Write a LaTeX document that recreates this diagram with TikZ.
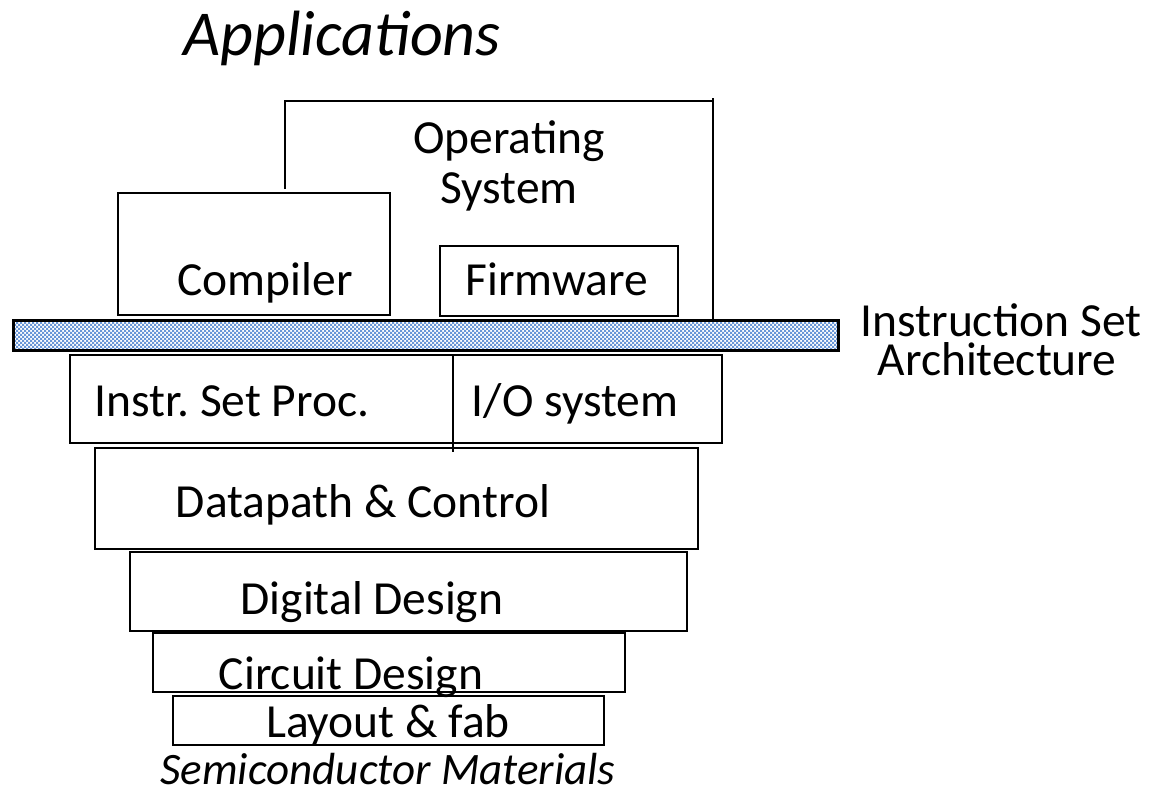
\documentclass[tikz,border=0pt]{standalone}
\usepackage{fontspec}
\setmainfont{Carlito}
\frenchspacing
\usetikzlibrary{patterns}
\definecolor{isablue}{RGB}{105,150,215}
\pgfdeclarepatternformonly{isachecker}{\pgfqpoint{-.05pt}{-.05pt}}{\pgfqpoint{4.05pt}{4.05pt}}{\pgfqpoint{4pt}{4pt}}{%
  \pgfpathrectangle{\pgfqpoint{0pt}{0pt}}{\pgfqpoint{2.05pt}{2.05pt}}%
  \pgfpathrectangle{\pgfqpoint{2pt}{2pt}}{\pgfqpoint{2.05pt}{2.05pt}}%
  \pgfusepath{fill}}
\tikzset{
  box/.style={draw=black, line width=2pt, inner sep=0pt, outer sep=0pt, fill=white},
  lbl/.style={inner sep=0pt, anchor=base, font=\fontsize{47.5}{54}\selectfont},
  ital/.style={inner sep=0pt, anchor=base, font=\fontsize{45}{52}\selectfont\itshape},
  edge/.style={draw=black, line width=2pt}
}
\begin{document}
\begin{tikzpicture}[x=1pt,y=-1pt]
\useasboundingbox (0,0) rectangle (1152,796);
% Operating system outline
\coordinate (os1) at (285,189);
\coordinate (os2) at (285,101);
\coordinate (os3) at (713,101);
\coordinate (os4) at (713,320);
\coordinate (os5) at (713,98);
\draw[edge] (os1) -- (os2) -- (os3);
\draw[edge] (os5) -- (os4);
% boxes
\node[box, minimum width=272pt, minimum height=122pt] (comp) at (254,254) {};
\node[box, minimum width=238pt, minimum height=70pt] (firm) at (559,281) {};
\node[draw=black, line width=3pt, inner sep=0pt, outer sep=0pt, fill=white, minimum width=825pt, minimum height=30pt] (isabg) at (425.5,335) {};
\fill[pattern=isachecker, pattern color=isablue] (isabg.south west) rectangle (isabg.north east);
\node[draw=black, line width=3pt, inner sep=0pt, outer sep=0pt, minimum width=825pt, minimum height=30pt] (isa) at (425.5,335) {};
\node[box, minimum width=652pt, minimum height=88pt] (instr) at (396,399) {};
\node[box, minimum width=603pt, minimum height=101pt] (dp) at (396.5,498.5) {};
\node[box, minimum width=557pt, minimum height=79pt] (dig) at (408.5,591.5) {};
\node[box, minimum width=472pt, minimum height=59pt] (circ) at (389,662.5) {};
\node[box, minimum width=431pt, minimum height=49pt] (lay) at (388.5,720.5) {};
\coordinate (divtop) at (453,355);
\coordinate (divbot) at (453,452);
\draw[edge] (divtop) -- (divbot);
% labels
\node[inner sep=0pt, anchor=base, font=\fontsize{64}{70}\selectfont\itshape] (app) at (342,55) {Applications};
\node[lbl] (ost1) at (509,153) {Operating};
\node[lbl] (ost2) at (509,203) {System};
\node[lbl] (compt) at (265,295) {Compiler};
\node[lbl] (firmt) at (557,295) {Firmware};
\node[lbl] (isat1) at (1001,336) {Instruction Set};
\node[lbl] (isat2) at (997,375) {Architecture};
\node[lbl] (isp) at (232,416) {Instr. Set Proc.};
\node[lbl] (io) at (575,416) {I/O system};
\node[lbl] (dpt) at (363,517) {Datapath \& Control};
\node[lbl] (digt) at (372,614) {Digital Design};
\node[lbl] (circt) at (351,689) {Circuit Design};
\node[lbl] (layt) at (388,737) {Layout \& fab};
\node[ital] (semi) at (388,784) {Semiconductor Materials};
\end{tikzpicture}
\end{document}
